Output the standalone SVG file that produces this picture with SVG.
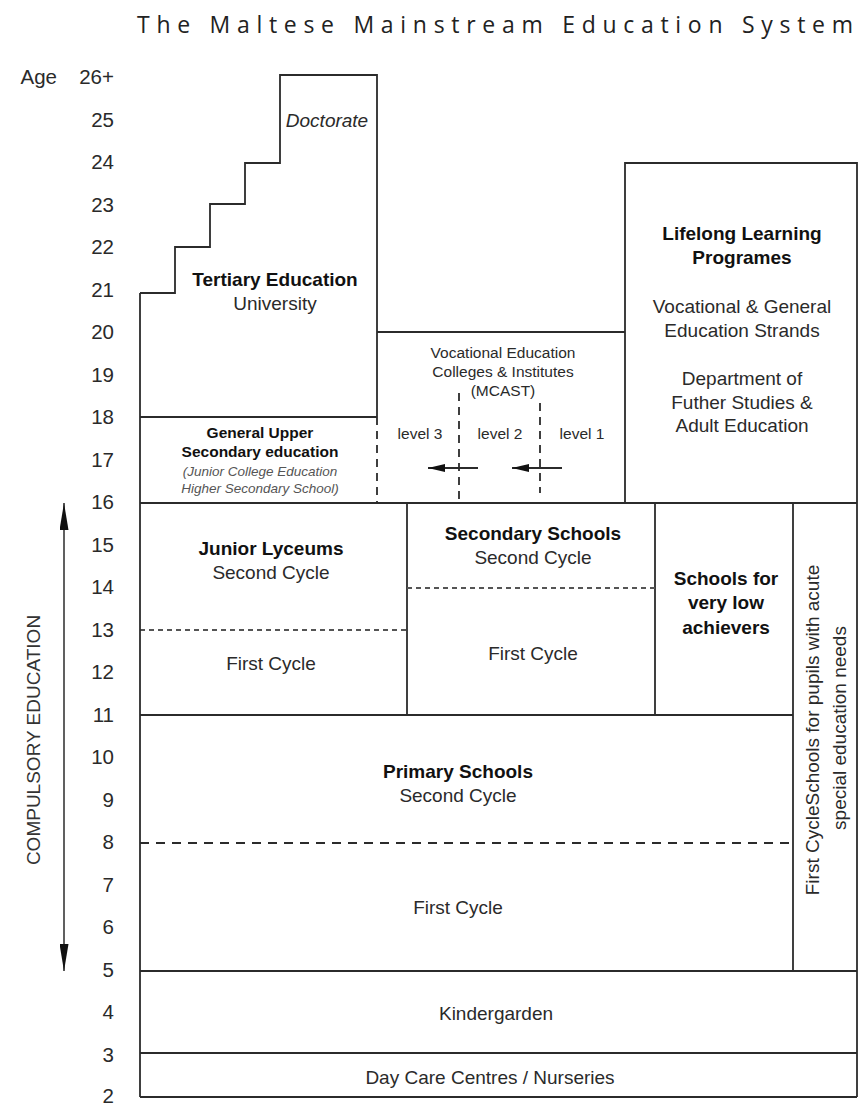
<svg xmlns="http://www.w3.org/2000/svg" width="858" height="1106" viewBox="0 0 858 1106">
<style>
.ln{stroke:#2b2b2b;stroke-width:1.8;fill:none}
.ds{stroke:#2b2b2b;stroke-width:1.8;fill:none;stroke-dasharray:9 7}
.dsh{stroke:#555;stroke-width:1.8;fill:none;stroke-dasharray:5 4}
.age{font-family:"Liberation Sans",Arial,sans-serif;font-size:20.5px;fill:#2a2a2a;text-anchor:end}
.t{font-family:"Liberation Sans",Arial,sans-serif;font-size:19px;fill:#2a2a2a;text-anchor:middle}
.b{font-weight:bold;fill:#111}
.s{font-size:15.5px}
.it{font-style:italic;font-size:13.5px;fill:#555}
.title{font-family:"Open Sans","Noto Sans",sans-serif;font-size:23px;fill:#222}
</style>
<defs>
<marker id="longhead" viewBox="0 0 30 10" markerWidth="30" markerHeight="9" refX="30" refY="5" orient="auto-start-reverse" markerUnits="userSpaceOnUse"><path d="M0,0 L30,5 L0,10 z" fill="#111"/></marker>
<marker id="head" viewBox="0 0 17 8" markerWidth="17" markerHeight="8" refX="17" refY="4" orient="auto" markerUnits="userSpaceOnUse"><path d="M0,0 L17,4 L0,8 z" fill="#111"/></marker>
</defs>
<rect width="858" height="1106" fill="#fff"/>
<text class="title" x="137" y="33" textLength="716" lengthAdjust="spacing">The Maltese Mainstream Education System</text>

<g id="ages">
<text class="age" x="57" y="84">Age</text>
<text class="age" x="114" y="84">26+</text>
<text class="age" x="114" y="126.5">25</text>
<text class="age" x="114" y="169">24</text>
<text class="age" x="114" y="211.5">23</text>
<text class="age" x="114" y="254">22</text>
<text class="age" x="114" y="296.5">21</text>
<text class="age" x="114" y="339">20</text>
<text class="age" x="114" y="381.5">19</text>
<text class="age" x="114" y="424">18</text>
<text class="age" x="114" y="466.5">17</text>
<text class="age" x="114" y="509">16</text>
<text class="age" x="114" y="551.5">15</text>
<text class="age" x="114" y="594">14</text>
<text class="age" x="114" y="636.5">13</text>
<text class="age" x="114" y="679">12</text>
<text class="age" x="114" y="721.5">11</text>
<text class="age" x="114" y="764">10</text>
<text class="age" x="114" y="806.5">9</text>
<text class="age" x="114" y="849">8</text>
<text class="age" x="114" y="891.5">7</text>
<text class="age" x="114" y="934">6</text>
<text class="age" x="114" y="976.5">5</text>
<text class="age" x="114" y="1019">4</text>
<text class="age" x="114" y="1061.5">3</text>
<text class="age" x="114" y="1103">2</text>
</g>

<g id="compulsory">
<text class="t" transform="translate(40,740) rotate(-90)" style="fill:#333">COMPULSORY EDUCATION</text>
</g>

<g id="connectors">
<line class="ln" x1="64" y1="503" x2="64" y2="971" style="stroke-width:1.5" marker-start="url(#longhead)" marker-end="url(#longhead)"/>
<line class="ln" x1="478" y1="468" x2="428" y2="468" marker-end="url(#head)"/>
<line class="ln" x1="562" y1="468" x2="512" y2="468" marker-end="url(#head)"/>
</g>

<g id="tertiary">
<path class="ln" d="M140,293 H175 V247 H210 V204 H245 V163 H280 V75 H377 V417"/>
<text class="t" x="327" y="127" style="font-style:italic">Doctorate</text>
<text class="t b" x="275" y="286">Tertiary Education</text>
<text class="t" x="275" y="310">University</text>
</g>

<g id="general-upper">
<line class="ln" x1="140" y1="417" x2="377" y2="417"/>
<line class="ds" x1="377" y1="417" x2="377" y2="503" style="stroke-dasharray:8 6"/>
<text class="t b s" x="260" y="437.5">General Upper</text>
<text class="t b s" x="260" y="456.5">Secondary education</text>
<text class="t it" x="260" y="476">(Junior College Education</text>
<text class="t it" x="260" y="493">Higher Secondary School)</text>
</g>

<g id="vocational">
<line class="ln" x1="377" y1="332" x2="625" y2="332"/>
<line class="ds" x1="459" y1="393" x2="459" y2="503" style="stroke-dasharray:8 6"/>
<line class="ds" x1="540" y1="403" x2="540" y2="493" style="stroke-dasharray:8 6"/>
<text class="t s" x="503" y="357.5">Vocational Education</text>
<text class="t s" x="503" y="376.5">Colleges &amp; Institutes</text>
<text class="t s" x="503" y="395.5">(MCAST)</text>
<text class="t s" x="420" y="438.5">level 3</text>
<text class="t s" x="500" y="438.5">level 2</text>
<text class="t s" x="582" y="438.5">level 1</text>
</g>

<g id="lifelong">
<path class="ln" d="M625,503 V163 H857 V503"/>
<text class="t b" x="742" y="240">Lifelong Learning</text>
<text class="t b" x="742" y="264">Programes</text>
<text class="t" x="742" y="312.5">Vocational &amp; General</text>
<text class="t" x="742" y="336.5">Education Strands</text>
<text class="t" x="742" y="384.5">Department of</text>
<text class="t" x="742" y="408.5">Futher Studies &amp;</text>
<text class="t" x="742" y="431.5">Adult Education</text>
</g>

<g id="junior-lyceums">
<line class="ln" x1="140" y1="503" x2="857" y2="503"/>
<line class="ln" x1="407" y1="503" x2="407" y2="715"/>
<line class="dsh" x1="140" y1="630" x2="407" y2="630"/>
<text class="t b" x="271" y="554.5">Junior Lyceums</text>
<text class="t" x="271" y="578.5">Second Cycle</text>
<text class="t" x="271" y="669.5">First Cycle</text>
</g>

<g id="secondary">
<line class="ln" x1="655" y1="503" x2="655" y2="715"/>
<line class="dsh" x1="407" y1="588" x2="655" y2="588"/>
<text class="t b" x="533" y="539.5">Secondary Schools</text>
<text class="t" x="533" y="563.5">Second Cycle</text>
<text class="t" x="533" y="659.5">First Cycle</text>
</g>

<g id="low-achievers">
<text class="t b" x="726" y="584.5">Schools for</text>
<text class="t b" x="726" y="609">very low</text>
<text class="t b" x="726" y="633.5">achievers</text>
</g>

<g id="special-needs">
<line class="ln" x1="793" y1="503" x2="793" y2="971"/>
<text class="t" transform="translate(819,730) rotate(-90)">First CycleSchools for pupils with acute</text>
<text class="t" transform="translate(846,728) rotate(-90)">special education needs</text>
</g>

<g id="primary">
<line class="ln" x1="140" y1="715" x2="793" y2="715"/>
<line class="ds" x1="140" y1="843" x2="793" y2="843"/>
<text class="t b" x="458" y="777.5">Primary Schools</text>
<text class="t" x="458" y="801.5">Second Cycle</text>
<text class="t" x="458" y="913.5">First Cycle</text>
</g>

<g id="kindergarden">
<line class="ln" x1="140" y1="971" x2="857" y2="971"/>
<text class="t" x="496" y="1019.5">Kindergarden</text>
</g>

<g id="daycare">
<line class="ln" x1="140" y1="1053" x2="857" y2="1053"/>
<text class="t" x="490" y="1083.5">Day Care Centres / Nurseries</text>
</g>

<g id="frame">
<line class="ln" x1="140" y1="293" x2="140" y2="1097"/>
<line class="ln" x1="857" y1="503" x2="857" y2="1097"/>
<line class="ln" x1="140" y1="1097" x2="857" y2="1097"/>
</g>
</svg>
